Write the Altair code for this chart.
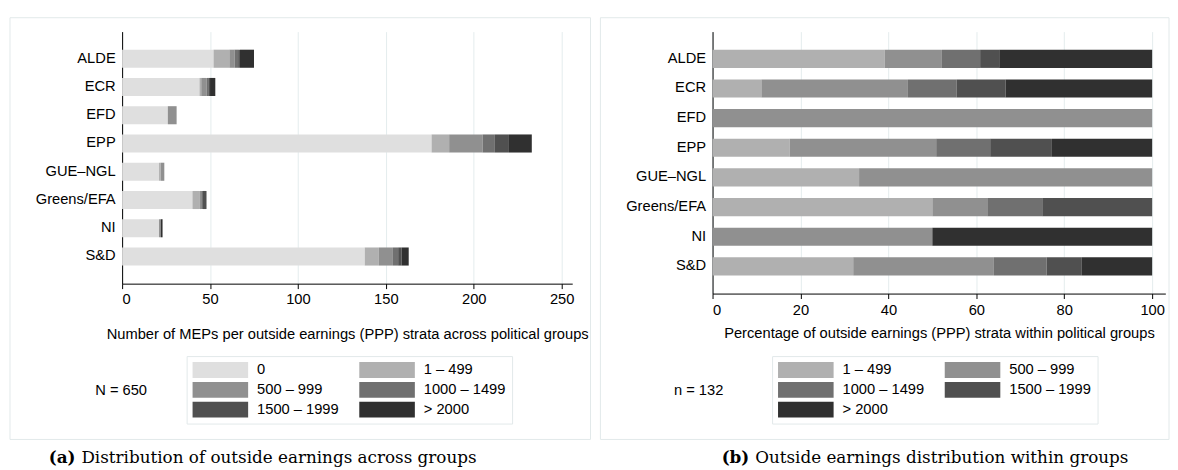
import altair as alt
import pandas as pd

groups = ["ALDE", "ECR", "EFD", "EPP", "GUE–NGL", "Greens/EFA", "NI", "S&D"]
strata = ["0", "1 – 499", "500 – 999", "1000 – 1499", "1500 – 1999", "> 2000"]
colors = ["#dfdfdf", "#b0b0b0", "#909090", "#707070", "#505050", "#303030"]

n_0 = [52, 44, 26, 176, 21, 40, 21, 138]
n_1_499 = [9, 1, 0, 10, 1, 4, 0, 8]
n_500_999 = [3, 3, 5, 19, 2, 1, 1, 8]
n_1000_1499 = [2, 1, 0, 7, 0, 1, 0, 3]
n_1500_1999 = [1, 1, 0, 8, 0, 2, 0, 2]
n_2000 = [8, 3, 0, 13, 0, 0, 1, 4]
series = [n_0, n_1_499, n_500_999, n_1000_1499, n_1500_1999, n_2000]

left_ticks = [0, 50, 100, 150, 200, 250]
right_ticks = [0, 20, 40, 60, 80, 100]

rows = []
for i, g in enumerate(groups):
    for j, (s, vals) in enumerate(zip(strata, series)):
        rows.append({"group": g, "stratum": s, "ord": j, "count": vals[i]})
df = pd.DataFrame(rows)
df_right = df[(df["stratum"] != "0")].copy()

FONT = "Liberation Sans"
FS = 14.8
SERIF = "DejaVu Serif"
CFS = 16.9
GRID = "#e4eced"
BORDER = "#e2e9ea"
blank = pd.DataFrame({"k": [0]})

SYM = "M-1,-1L6,-1L6,1L-1,1Z"


def border(x1, x2, y1, y2):
    return alt.Chart(blank).mark_rect(fillOpacity=0, stroke=BORDER, strokeWidth=1).encode(
        x=alt.value(x1), x2=alt.value(x2), y=alt.value(y1), y2=alt.value(y2)
    )


def txt(text, x, y, align="center", baseline="middle", font=FONT, size=FS, weight="normal"):
    return alt.Chart(blank).mark_text(
        text=text, align=align, baseline=baseline, font=font, fontSize=size,
        fontWeight=weight, color="black"
    ).encode(x=alt.value(x), y=alt.value(y))


def legend(x, y):
    return alt.Legend(
        title=None, orient="none", legendX=x, legendY=y, columns=2, direction="horizontal",
        symbolType=SYM, symbolSize=256, symbolStrokeWidth=0, symbolOpacity=1,
        labelOffset=49, labelFont=FONT, labelFontSize=FS, labelColor="black",
        columnPadding=20, rowPadding=4, padding=6,
        strokeColor=BORDER, fillColor="white",
    )


def xaxis(values, title, label_pad, title_pad):
    return alt.Axis(
        values=values, grid=True, gridColor=GRID, tickSize=5, labelPadding=label_pad,
        title=title, titlePadding=title_pad,
        labelFont=FONT, titleFont=FONT, labelFontSize=FS, titleFontSize=FS,
        labelColor="black", titleColor="black", titleFontWeight="normal",
        domainColor="black", tickColor="black", domainWidth=1, tickWidth=1,
    )


def yaxis():
    return alt.Axis(
        title=None, ticks=False, labelPadding=7, grid=False,
        labelFont=FONT, labelFontSize=FS, labelColor="black",
        domainColor="black", domainWidth=1,
    )


left_bars = alt.Chart(df).mark_bar().encode(
    x=alt.X(
        "count:Q", stack="zero",
        scale=alt.Scale(domain=[0, 256], nice=False, zero=True),
        axis=xaxis(left_ticks,
                   "Number of MEPs per outside earnings (PPP) strata across political groups",
                   3, 20),
    ),
    y=alt.Y(
        "group:N", sort=groups,
        scale=alt.Scale(paddingInner=0.36, paddingOuter=0.64),
        axis=yaxis(),
    ),
    color=alt.Color(
        "stratum:N", sort=strata,
        scale=alt.Scale(domain=strata, range=colors),
        legend=legend(65, 327),
    ),
    order=alt.Order("ord:Q"),
)

left = alt.layer(
    border(-113, 472, -14, 411),
    left_bars,
    txt("N = 650", -1, 362),
    txt("(a)", -47, 435, align="right", baseline="alphabetic", font=SERIF, size=CFS, weight="bold"),
    txt("Distribution of outside earnings across groups", -41, 435, align="left",
        baseline="alphabetic", font=SERIF, size=CFS),
).properties(width=453.6, height=254)

right_bars = alt.Chart(df_right).transform_joinaggregate(
    total="sum(count)", groupby=["group"]
).transform_calculate(
    pct="100 * datum.count / datum.total"
).mark_bar().encode(
    x=alt.X(
        "pct:Q", stack="zero",
        scale=alt.Scale(domain=[0, 103], nice=False, zero=True),
        axis=xaxis(right_ticks,
                   "Percentage of outside earnings (PPP) strata within political groups",
                   4, 8),
    ),
    y=alt.Y(
        "group:N", sort=groups,
        scale=alt.Scale(paddingInner=0.388, paddingOuter=0.612),
        axis=yaxis(),
    ),
    color=alt.Color(
        "stratum:N", sort=strata[1:],
        scale=alt.Scale(domain=strata[1:], range=colors[1:]),
        legend=legend(60, 327),
    ),
    order=alt.Order("ord:Q"),
)

right = alt.layer(
    border(-113, 460, -14, 411),
    right_bars,
    txt("n = 132", -14, 362),
    txt("(b)", 37, 435, align="right", baseline="alphabetic", font=SERIF, size=CFS, weight="bold"),
    txt("Outside earnings distribution within groups", 43, 435, align="left",
        baseline="alphabetic", font=SERIF, size=CFS),
).properties(width=456.3, height=264)

chart = alt.hconcat(left, right, spacing=8).resolve_scale(
    color="independent", x="independent", y="independent"
).resolve_legend(color="independent").properties(
    padding={"left": 1, "top": 7, "right": 0, "bottom": 0},
    background="white",
).configure_view(
    strokeOpacity=0
)

chart.save("out.html", embed_options={"renderer": "svg", "actions": False})
